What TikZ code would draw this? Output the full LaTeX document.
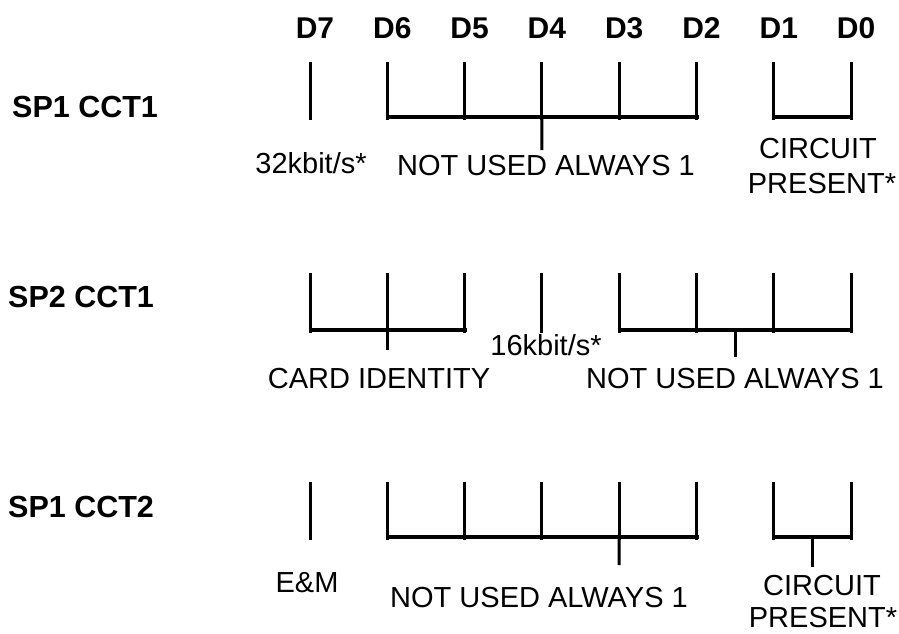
\documentclass[tikz,border=0pt]{standalone}
\usepackage{fontspec}
\setmainfont{Liberation Sans}
\begin{document}
\begin{tikzpicture}[x=1pt,y=-1pt,
  tick/.style={line width=3pt},
  hbar/.style={line width=3.3pt},
  hdr/.style={font=\fontsize{30}{31}\selectfont\bfseries, inner sep=0pt, anchor=base},
  rowlbl/.style={font=\fontsize{30.5}{31}\selectfont\bfseries, inner sep=0pt, anchor=base west},
  lbl/.style={font=\fontsize{29}{33}\selectfont, inner sep=0pt, anchor=base}]
\useasboundingbox (0,0) rectangle (899,633);

% column header labels
\node[hdr] (hD7) at (315,38) {D7};
\node[hdr] (hD6) at (392.3,38) {D6};
\node[hdr] (hD5) at (469.6,38) {D5};
\node[hdr] (hD4) at (546.9,38) {D4};
\node[hdr] (hD3) at (624.2,38) {D3};
\node[hdr] (hD2) at (701.5,38) {D2};
\node[hdr] (hD1) at (778.8,38) {D1};
\node[hdr] (hD0) at (856.1,38) {D0};

% row labels
\node[rowlbl] (r1) at (12,117) {SP1 CCT1};
\node[rowlbl] (r2) at (8,307) {SP2 CCT1};
\node[rowlbl] (r3) at (8,517) {SP1 CCT2};

% coordinates of ticks: <row>t<k> top, <row>b<k> bottom, <row>m<k> on bar
\foreach \r/\ty/\by in {a/62/117, b/273/330, c/482/537} {
  \foreach \k in {0,...,7} {
    \coordinate (\r t\k) at ({310+77.3*\k},\ty);
    \coordinate (\r b\k) at ({310+77.3*\k},{\by+3});
    \coordinate (\r m\k) at ({310+77.3*\k},\by);
  }
}
\foreach \r in {a,b,c}
  \foreach \k in {0,...,7}
    \draw[tick] (\r t\k) -- (\r b\k);

% row 1
\draw[hbar] ([xshift=-1.5pt]am1) -- ([xshift=2pt]am5);
\draw[hbar] ([xshift=-1.5pt]am6) -- ([xshift=2pt]am7);
\coordinate (as1) at (541.9,150);
\draw[tick] (am3) -- (as1);
\node[lbl] (l32) at (311,173) {32kbit/s*};
\node[lbl] (lnu1) at (546,175) {NOT USED ALWAYS 1};
\node[lbl] (lcp1a) at (818,158) {CIRCUIT};
\node[lbl] (lcp1b) at (822,193) {PRESENT*};

% row 2
\draw[hbar] ([xshift=-1.5pt]bm0) -- ([xshift=2pt]bm2);
\draw[hbar] ([xshift=-1.5pt]bm4) -- ([xshift=2pt]bm7);
\coordinate (bs1) at (387.3,350);
\draw[tick] (bm1) -- (bs1);
\coordinate (bmid) at (735.1,330);
\coordinate (bs2) at (735.1,357);
\draw[tick] (bmid) -- (bs2);
\node[lbl] (l16) at (546,355) {16kbit/s*};
\node[lbl] (lci) at (379,388) {CARD IDENTITY};
\node[lbl] (lnu2) at (735,388) {NOT USED ALWAYS 1};

% row 3
\draw[hbar] ([xshift=-1.5pt]cm1) -- ([xshift=2pt]cm5);
\draw[hbar] ([xshift=-1.5pt]cm6) -- ([xshift=2pt]cm7);
\coordinate (cs1) at (619.2,565);
\draw[tick] (cm4) -- (cs1);
\coordinate (cmid) at (812.5,537);
\coordinate (cs2) at (812.5,567);
\draw[tick] (cmid) -- (cs2);
\node[lbl] (lem) at (307,592) {E\&M};
\node[lbl] (lnu3) at (539,607) {NOT USED ALWAYS 1};
\node[lbl] (lcp3a) at (822,595) {CIRCUIT};
\node[lbl] (lcp3b) at (823,627.5) {PRESENT*};
\end{tikzpicture}
\end{document}
